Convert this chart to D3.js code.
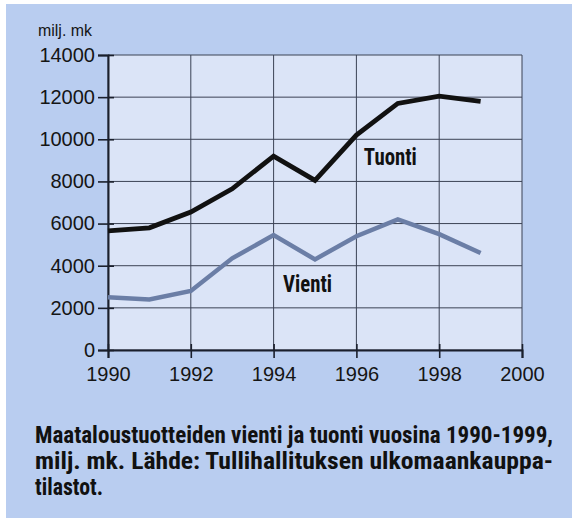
<!DOCTYPE html>
<meta charset="utf-8">
<script src="https://d3js.org/d3.v7.min.js"></script>
<style>
body { margin: 0; background: #fff; }
</style>
<div id="chart"></div>
<script>
// data
const years = [1990, 1991, 1992, 1993, 1994, 1995, 1996, 1997, 1998, 1999];
const tuonti = [5650, 5800, 6550, 7650, 9200, 8050, 10200, 11700, 12050, 11800];
const vienti = [2500, 2400, 2800, 4350, 5450, 4300, 5400, 6200, 5500, 4600];
const yTicks = [0, 2000, 4000, 6000, 8000, 10000, 12000, 14000];
const xTicks = [1990, 1992, 1994, 1996, 1998, 2000];
const caption = [
  "Maataloustuotteiden vienti ja tuonti vuosina 1990-1999,",
  "milj. mk. Lähde: Tullihallituksen ulkomaankauppa-",
  "tilastot."
];

const sans = '"Liberation Sans", Arial, sans-serif';
const cond = '"Roboto Condensed", "Liberation Sans", sans-serif';

const W = 572, H = 518;
const margin = {top: 55, right: 50, bottom: 168, left: 108};
const width = W - margin.left - margin.right,
      height = H - margin.top - margin.bottom;

const root = d3.select("#chart").append("svg")
    .attr("width", W)
    .attr("height", H);

// blue page background
root.append("rect")
    .attr("x", 6).attr("y", 4)
    .attr("width", W - 6).attr("height", H - 4)
    .attr("fill", "#b9cdf0");

const svg = root.append("g")
    .attr("transform", `translate(${margin.left},${margin.top})`);

const x = d3.scaleLinear().domain([1990, 2000]).range([0, width]);
const y = d3.scaleLinear().domain([0, 14000]).range([height, 0]);

svg.append("rect")
    .attr("width", width).attr("height", height)
    .attr("fill", "#dbe4f7");

// grid
svg.append("g")
  .selectAll("line")
  .data(yTicks)
  .join("line")
    .attr("x1", 0).attr("x2", width)
    .attr("y1", d => y(d)).attr("y2", d => y(d))
    .attr("stroke", "#3b4254").attr("stroke-width", 1);
svg.append("g")
  .selectAll("line")
  .data(xTicks)
  .join("line")
    .attr("x1", d => x(d)).attr("x2", d => x(d))
    .attr("y1", 0).attr("y2", height)
    .attr("stroke", "#3b4254").attr("stroke-width", 1);

// axes
const yAxis = svg.append("g")
    .call(d3.axisLeft(y).tickValues(yTicks).tickSize(10).tickPadding(3).tickFormat(d3.format("d")));
yAxis.select(".domain").attr("stroke", "#1a1f2c").attr("stroke-width", 2);
yAxis.selectAll(".tick line").attr("stroke", "#1a1f2c").attr("stroke-width", 1.6).attr("x2", -10).attr("x1", 6);
yAxis.selectAll("text")
    .style("font-family", sans).style("font-size", "20px").attr("fill", "#151515");

const xAxis = svg.append("g")
    .attr("transform", `translate(0,${height})`)
    .call(d3.axisBottom(x).tickValues(xTicks).tickSize(8).tickPadding(9).tickFormat(d3.format("d")));
xAxis.select(".domain").attr("stroke", "#1a1f2c").attr("stroke-width", 2);
xAxis.selectAll(".tick line").attr("stroke", "#1a1f2c").attr("stroke-width", 1.6).attr("y1", -6);
xAxis.selectAll("text")
    .style("font-family", sans).style("font-size", "20px").attr("fill", "#151515");

svg.append("text")
    .attr("x", -70).attr("y", -19)
    .style("font-family", sans)
    .style("font-size", "16px")
    .attr("textLength", 54)
    .attr("lengthAdjust", "spacingAndGlyphs")
    .attr("fill", "#151515")
    .text("milj. mk");

// lines
const line = d3.line()
    .x((d, i) => x(years[i]))
    .y(d => y(d));

svg.append("path")
    .datum(vienti)
    .attr("d", line)
    .attr("fill", "none")
    .attr("stroke", "#6b7ea6")
    .attr("stroke-width", 4.5)
    .attr("stroke-linejoin", "miter");

svg.append("path")
    .datum(tuonti)
    .attr("d", line)
    .attr("fill", "none")
    .attr("stroke", "#111")
    .attr("stroke-width", 4.8)
    .attr("stroke-linejoin", "miter");

svg.append("text")
    .attr("x", x(1996.18)).attr("y", y(8780))
    .attr("textLength", 53)
    .attr("lengthAdjust", "spacingAndGlyphs")
    .style("font-family", cond).style("font-weight", "bold")
    .style("font-size", "23px").attr("fill", "#111")
    .text("Tuonti");

svg.append("text")
    .attr("x", x(1994.23)).attr("y", y(2750))
    .attr("textLength", 49)
    .attr("lengthAdjust", "spacingAndGlyphs")
    .style("font-family", cond).style("font-weight", "bold")
    .style("font-size", "23px").attr("fill", "#111")
    .text("Vienti");

// caption
const capLens = [518, 518, 68];
root.append("g")
  .selectAll("text")
  .data(caption)
  .join("text")
    .attr("x", 35)
    .attr("y", (d, i) => 443 + i * 26)
    .attr("textLength", (d, i) => capLens[i])
    .attr("lengthAdjust", "spacingAndGlyphs")
    .style("font-family", cond).style("font-weight", "bold")
    .style("font-size", "23px")
    .attr("fill", "#111")
    .text(d => d);
</script>
